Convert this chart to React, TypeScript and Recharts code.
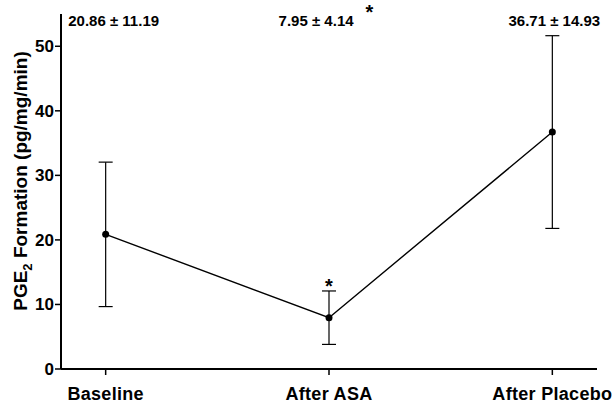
import React from "react";
import { LineChart, Line, XAxis, YAxis, ErrorBar, LabelList } from "recharts";

const categories = ["Baseline", "After ASA", "After Placebo"];
const means = [20.86, 7.95, 36.71];
const sds = [11.19, 4.14, 14.93];
const significant = [false, true, false];
const yTicks = [0, 10, 20, 30, 40, 50];

const data = categories.map((name, i) => ({
  x: i,
  name,
  mean: means[i],
  sd: sds[i],
  upper: means[i] + sds[i],
  label: `${means[i].toFixed(2)} ± ${sds[i].toFixed(2)}`,
  sig: significant[i],
}));

const FONT = "'Liberation Sans', Arial, Helvetica, sans-serif";

const TopLabel = (props: any) => {
  const { x, index } = props;
  const d = data[index];
  if (!d) return null;
  const shift = index === 0 ? 8 : index === 1 ? -3 : 2;
  return (
    <text
      x={x + shift}
      y={26}
      textAnchor="middle"
      fontFamily={FONT}
      fontWeight="bold"
      fontSize={15}
      fill="#000"
    >
      {d.label}
      {d.sig ? (
        <tspan dx={12} dy={-7} fontSize={20}>
          *
        </tspan>
      ) : null}
    </text>
  );
};

const StarLabel = (props: any) => {
  const { x, y, index } = props;
  const d = data[index];
  if (!d || !d.sig) return null;
  return (
    <text
      x={x}
      y={y + 2}
      textAnchor="middle"
      fontFamily={FONT}
      fontWeight="bold"
      fontSize={20}
      fill="#000"
    >
      *
    </text>
  );
};

const YLabel = () => (
  <text
    x={27}
    y={181}
    transform="rotate(-90, 27, 181)"
    textAnchor="middle"
    fontFamily={FONT}
    fontWeight="bold"
    fontSize={19}
    fill="#000"
  >
    PGE
    <tspan dy={5} fontSize={13}>
      2
    </tspan>
    <tspan dy={-5}> Formation (pg/mg/min)</tspan>
  </text>
);

export default function App() {
  return (
    <div style={{ position: "absolute", left: 0, top: 0, width: 616, height: 406, background: "#fff" }}>
      <LineChart
        width={616}
        height={406}
        data={data}
        margin={{ top: 14, right: 19, bottom: 0, left: 0 }}
      >
        <XAxis
          dataKey="x"
          type="number"
          domain={[-0.2, 2.2]}
          ticks={[0, 1, 2]}
          tickFormatter={(v: number) => categories[v]}
          allowDataOverflow
          height={37}
          axisLine={{ stroke: "#000", strokeWidth: 2 }}
          tickLine={{ stroke: "#000", strokeWidth: 1.5 }}
          tickSize={6}
          tickMargin={12}
          tick={{ fill: "#000", fontFamily: FONT, fontWeight: "bold", fontSize: 18, letterSpacing: 0.3 }}
          interval={0}
        />
        <YAxis
          type="number"
          domain={[0, 55]}
          ticks={yTicks}
          width={61}
          allowDataOverflow
          axisLine={{ stroke: "#000", strokeWidth: 2 }}
          tickLine={{ stroke: "#000", strokeWidth: 1.5 }}
          tickSize={6}
          tickMargin={1}
          tick={{ fill: "#000", fontFamily: FONT, fontWeight: "bold", fontSize: 17 }}
          label={<YLabel />}
        />
        <Line
          dataKey="upper"
          stroke="none"
          dot={false}
          activeDot={false}
          isAnimationActive={false}
          legendType="none"
        >
          <LabelList dataKey="upper" content={<StarLabel />} />
        </Line>
        <Line
          dataKey="mean"
          stroke="#000"
          strokeWidth={1.4}
          dot={{ r: 3.5, fill: "#000", stroke: "#000", strokeWidth: 0 }}
          activeDot={false}
          isAnimationActive={false}
        >
          <ErrorBar dataKey="sd" width={7} stroke="#000" strokeWidth={1.2} direction="y" isAnimationActive={false} />
          <LabelList dataKey="label" content={<TopLabel />} />
        </Line>
      </LineChart>
    </div>
  );
}
